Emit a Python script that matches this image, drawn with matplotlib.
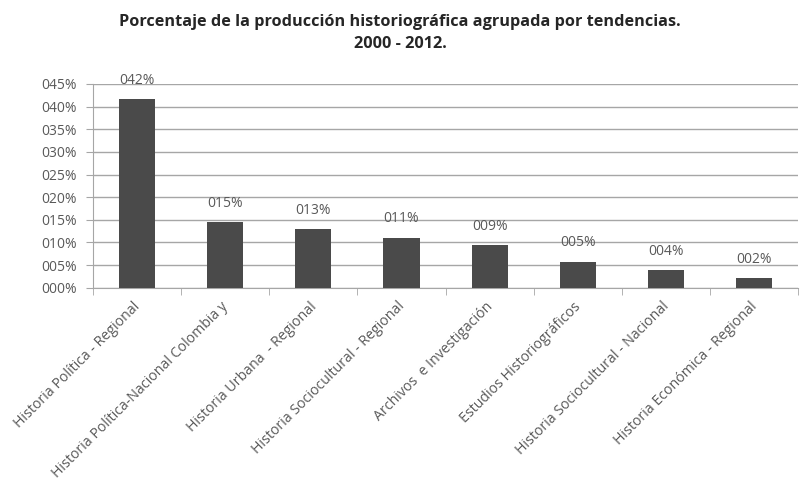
import matplotlib.pyplot as plt
import matplotlib.transforms as mtransforms
import numpy as np

plt.rcParams['font.family'] = ['Open Sans', 'DejaVu Sans']

categorias = ['Historia Política - Regional', 'Historia Política-Nacional Colombia y',
              'Historia Urbana  - Regional', 'Historia Sociocultural - Regional',
              'Archivos  e Investigación', 'Estudios Historiográficos',
              'Historia Sociocultural - Nacional', 'Historia Económica - Regional']
valores = [0.417, 0.146, 0.130, 0.111, 0.094, 0.058, 0.039, 0.022]
etiquetas = ['042%', '015%', '013%', '011%', '009%', '005%', '004%', '002%']
yticks = [0.0, 0.05, 0.10, 0.15, 0.20, 0.25, 0.30, 0.35, 0.40, 0.45]
ylabels = ['000%', '005%', '010%', '015%', '020%', '025%', '030%', '035%', '040%', '045%']

gris_texto = '#595959'
gris_linea = '#a6a6a6'

fig = plt.figure(figsize=(8, 4.87), dpi=100)
ax = fig.add_axes([0.116, 0.409, 0.882, 0.4188])

x = np.arange(len(categorias))
ax.bar(x, valores, width=0.41, color='#4a4a4a', zorder=3)
for xi, v, t in zip(x, valores, etiquetas):
    ax.annotate(t, (xi, v), xytext=(0, 8), textcoords='offset points',
                ha='center', va='bottom', fontsize=10, color=gris_texto)

ax.set_xlim(-0.5, len(categorias) - 0.5)
ax.set_ylim(0, 0.45)
ax.set_yticks(yticks)
ax.set_yticklabels(ylabels, fontsize=10, color=gris_texto)
ax.yaxis.grid(True, color=gris_linea, linewidth=1, zorder=0)

ax.set_xticks(x)
ax.set_xticklabels(categorias, rotation=45, ha='right', rotation_mode='anchor',
                   fontsize=10.2, color=gris_texto)
ax.tick_params(axis='x', which='major', length=0, pad=8)
# correr un poco las etiquetas a la izquierda
desplazar = mtransforms.ScaledTranslation(-3 / 72, 0, fig.dpi_scale_trans)
for lab in ax.get_xticklabels():
    lab.set_transform(lab.get_transform() + desplazar)
ax.set_xticks(np.arange(-0.5, len(categorias), 1), minor=True)
ax.tick_params(axis='x', which='minor', length=5, color=gris_linea)
ax.tick_params(axis='y', length=5, color=gris_linea, pad=6.5)

for s in ['top', 'right']:
    ax.spines[s].set_visible(False)
for s in ['left', 'bottom']:
    ax.spines[s].set_color(gris_linea)

fig.text(0.5, 0.972, 'Porcentaje de la producción historiográfica agrupada por tendencias.\n2000 - 2012.',
         ha='center', va='top', fontsize=11.7, fontweight='bold', color='#262626', linespacing=1.55)

fig.savefig('out.png', dpi=100)
